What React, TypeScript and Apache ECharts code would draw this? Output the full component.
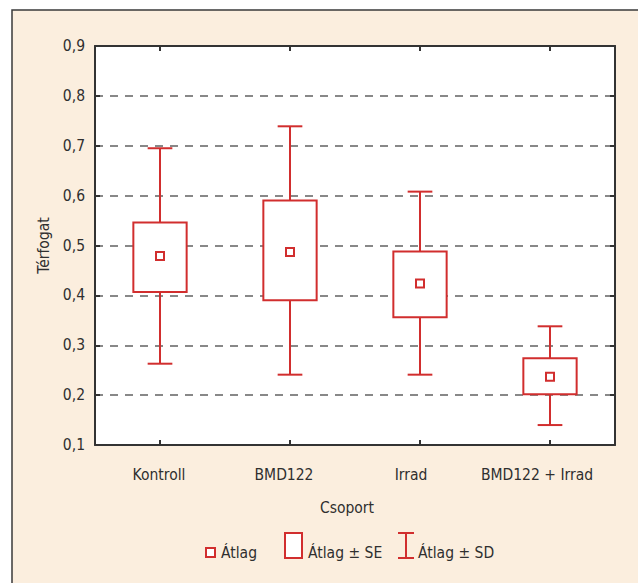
import React, { useEffect, useRef } from "react";
import * as echarts from "echarts";

const categories = ["Kontroll", "BMD122", "Irrad", "BMD122 + Irrad"];
const means = [0.479, 0.487, 0.424, 0.237];
const seLow = [0.407, 0.39, 0.356, 0.202];
const seHigh = [0.546, 0.59, 0.488, 0.274];
const sdLow = [0.263, 0.241, 0.241, 0.14];
const sdHigh = [0.695, 0.739, 0.608, 0.338];

const yMin = 0.1;
const yMax = 0.9;
const yStep = 0.1;

const xTitle = "Csoport";
const yTitle = "Térfogat";
const legendMean = "Átlag";
const legendSE = "Átlag ± SE";
const legendSD = "Átlag ± SD";

const RED = "#d12e2e";
const TXT = "#2f2f2f";
const FONT = "'Liberation Sans Narrow', 'DejaVu Sans Condensed', 'Noto Sans', sans-serif";
const FS = 15.5;
// left shift of each category label in the original figure (px)
const labelShift = [1, 6, 9, 13];

export default function App() {
  const ref = useRef<HTMLDivElement>(null);
  useEffect(() => {
    if (!ref.current) return;
    const chart = echarts.init(ref.current, null, { renderer: "svg" });
    const data = categories.map((_, i) => [i, sdLow[i], seLow[i], means[i], seHigh[i], sdHigh[i]]);
    const axisLine = { show: true, lineStyle: { color: "#333", width: 2 } };
    const tick = { show: true, inside: true, length: 5, lineStyle: { color: "#333", width: 2 } };
    const legendText = (x: number, text: string) => ({
      type: "text",
      x,
      y: 553,
      style: { text, fill: TXT, font: `${FS}px ${FONT}`, verticalAlign: "middle" },
    });
    const rich: Record<string, any> = {};
    labelShift.forEach((s, i) => {
      rich["c" + i] = { color: TXT, fontSize: FS, fontFamily: FONT, padding: [0, s * 2, 0, 0] };
    });
    chart.setOption({
      animation: false,
      backgroundColor: "#ffffff",
      textStyle: { fontFamily: FONT },
      grid: {
        left: 95,
        top: 46,
        right: 23,
        bottom: 138,
        show: true,
        backgroundColor: "#ffffff",
        borderWidth: 0,
        containLabel: false,
      },
      graphic: [
        {
          type: "rect",
          z: -100,
          silent: true,
          shape: { x: 12, y: 10, width: 700, height: 700 },
          style: { fill: "#fbeede", stroke: "#3a3a3a", lineWidth: 1.5 },
        },
        {
          type: "rect",
          shape: { x: 206, y: 548, width: 9, height: 9 },
          style: { fill: "#fff", stroke: RED, lineWidth: 2 },
        },
        legendText(221, legendMean),
        {
          type: "rect",
          shape: { x: 285, y: 533, width: 17, height: 25 },
          style: { fill: "#fff", stroke: RED, lineWidth: 2 },
        },
        legendText(308, legendSE),
        {
          type: "line",
          shape: { x1: 398, y1: 533, x2: 414, y2: 533 },
          style: { stroke: RED, lineWidth: 2 },
        },
        {
          type: "line",
          shape: { x1: 406, y1: 533, x2: 406, y2: 558 },
          style: { stroke: RED, lineWidth: 2 },
        },
        {
          type: "line",
          shape: { x1: 398, y1: 558, x2: 414, y2: 558 },
          style: { stroke: RED, lineWidth: 2 },
        },
        legendText(418, legendSD),
      ],
      xAxis: [
        {
          type: "category",
          data: categories,
          position: "bottom",
          boundaryGap: true,
          axisLine,
          axisTick: { ...tick, alignWithLabel: true },
          axisLabel: {
            color: TXT,
            fontSize: FS,
            fontFamily: FONT,
            margin: 22,
            interval: 0,
            formatter: (v: string, i: number) => `{c${i}|${v}}`,
            rich,
          },
          splitLine: { show: false },
          name: xTitle,
          nameLocation: "middle",
          nameGap: 55,
          nameTextStyle: { color: TXT, fontSize: FS, fontFamily: FONT, padding: [0, 16, 0, 0] },
        },
        {
          type: "category",
          data: categories,
          position: "top",
          boundaryGap: true,
          axisLine,
          axisTick: { ...tick, alignWithLabel: true },
          axisLabel: { show: false },
          splitLine: { show: false },
        },
      ],
      yAxis: [
        {
          type: "value",
          min: yMin,
          max: yMax,
          interval: yStep,
          position: "left",
          axisLine,
          axisTick: tick,
          axisLabel: {
            color: TXT,
            fontSize: FS,
            fontFamily: FONT,
            margin: 10,
            formatter: (v: number) => v.toFixed(1).replace(".", ","),
          },
          splitLine: { show: true, lineStyle: { color: "#888", width: 2, type: [8, 7] } },
          name: yTitle,
          nameLocation: "middle",
          nameGap: 41,
          nameRotate: 90,
          nameTextStyle: { color: TXT, fontSize: FS, fontFamily: FONT },
        },
        {
          type: "value",
          min: yMin,
          max: yMax,
          interval: yStep,
          position: "right",
          axisLine,
          axisTick: tick,
          axisLabel: { show: false },
          splitLine: { show: false },
        },
      ],
      series: [
        {
          type: "custom",
          xAxisIndex: 0,
          yAxisIndex: 0,
          data,
          z: 5,
          renderItem: (params: any, api: any) => {
            const idx = api.value(0);
            const band = api.size([1, 0])[0];
            const boxW = band * 0.41;
            const capW = band * 0.19;
            const pSdLo = api.coord([idx, api.value(1)]);
            const pSeLo = api.coord([idx, api.value(2)]);
            const pMean = api.coord([idx, api.value(3)]);
            const pSeHi = api.coord([idx, api.value(4)]);
            const pSdHi = api.coord([idx, api.value(5)]);
            const cx = pMean[0];
            const ls = { stroke: RED, lineWidth: 2, fill: "none" };
            return {
              type: "group",
              children: [
                { type: "line", shape: { x1: cx, y1: pSeHi[1], x2: cx, y2: pSdHi[1] }, style: ls },
                { type: "line", shape: { x1: cx, y1: pSeLo[1], x2: cx, y2: pSdLo[1] }, style: ls },
                { type: "line", shape: { x1: cx - capW / 2, y1: pSdHi[1], x2: cx + capW / 2, y2: pSdHi[1] }, style: ls },
                { type: "line", shape: { x1: cx - capW / 2, y1: pSdLo[1], x2: cx + capW / 2, y2: pSdLo[1] }, style: ls },
                {
                  type: "rect",
                  shape: { x: cx - boxW / 2, y: pSeHi[1], width: boxW, height: pSeLo[1] - pSeHi[1] },
                  style: { stroke: RED, lineWidth: 2, fill: "#fff" },
                },
                {
                  type: "rect",
                  shape: { x: cx - 4, y: pMean[1] - 4, width: 8, height: 8 },
                  style: { stroke: RED, lineWidth: 2, fill: "#fff" },
                },
              ],
            };
          },
        },
      ],
    });
    return () => chart.dispose();
  }, []);
  return <div ref={ref} style={{ position: "fixed", left: 0, top: 0, width: 638, height: 583 }} />;
}
